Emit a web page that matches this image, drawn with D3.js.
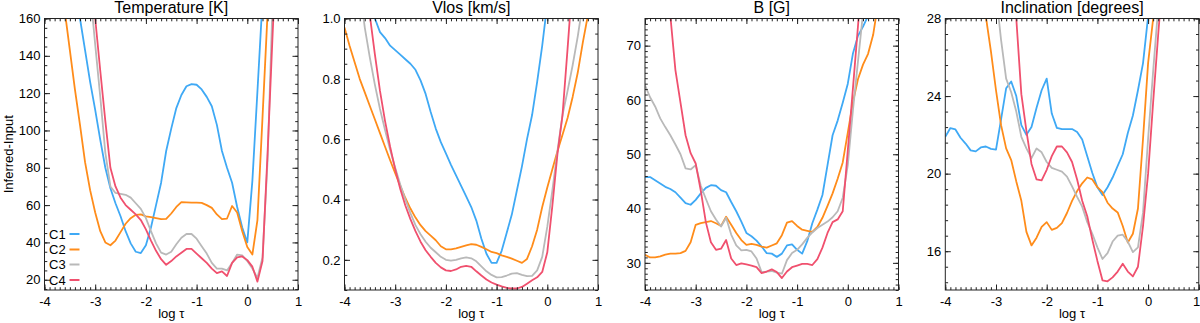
<!DOCTYPE html>
<html><head><meta charset="utf-8">
<script src="https://cdn.jsdelivr.net/npm/d3@7"></script>
<style>
body{margin:0;background:#fff}
svg{display:block}
text{font-family:"Liberation Sans",Arial,Helvetica,sans-serif;fill:#000}
</style>
</head><body>
<svg id="chart" width="1200" height="323"></svg>
<script>
// ---------------- data ----------------
const logTau = [-4.0,-3.9,-3.8,-3.7,-3.6,-3.5,-3.4,-3.3,-3.2,-3.1,
  -3.0,-2.9,-2.8,-2.7,-2.6,-2.5,-2.4,-2.3,-2.2,-2.1,
  -2.0,-1.9,-1.8,-1.7,-1.6,-1.5,-1.4,-1.3,-1.2,-1.1,
  -1.0,-0.9,-0.8,-0.7,-0.6,-0.5,-0.4,-0.3,-0.2,-0.1,
  0.0,0.1,0.2,0.3,0.4,0.5,0.6,0.7,0.8,0.9,1.0];
const seriesNames = ["C1","C2","C3","C4"];
const seriesColors = ["#3fa9f5","#ff8c1a","#b9b9b9","#f0506e"];
const xTicks = [-4,-3,-2,-1,0,1];
const _ = null;

// Temperature [K]
const tempC1 = [_,_,_,_,_,_, 178,160,143,126, 111,95,80,69,61,54,46,39.5,35,34.3,
  38.5,48,60,72,89,101,112,119,123.7,124.8, 124.5,122,118,113,103,89,80,72,59,48,
  40,73,121,170, _,_,_,_,_,_,_];
const tempC2 = [_,_,_, 185,164,143,122,103,83,68, 56,46,40,38.5,41,45.5,50,53,54.8,55,
  54,53.5,53,52.5,52.6,55.5,59,61.6,61.5,61.3, 61.3,61.2,60,58.5,55,52.5,52.8,59.5,56,46,
  37.5,33.5,52,107,163, _,_,_,_,_,_];
const tempC3 = [_,_,_,_,_,_,_,_,_, 175, 146,118,88,70,66.5,66,65.5,64,61,58,
  53,46,39.5,34.5,33.5,35,39,42.5,44.5,44.5, 42,38,34,29,26,26,25,29,33.5,33,
  30,26,21,32,84,170, _,_,_,_,_];
const tempC4 = [_,_,_,_,_,_,_,_,_, 190, 160,132,105,80,70,64,60,57.5,55,52,
  47,41,35.5,31,28,30,32.5,34.5,36.5,36.5, 34,31.5,29,26,23.5,24.5,22,29,32,32.5,
  30.5,27,19,30,88,152,210, _,_,_,_];
const tempTicks = [20,40,60,80,100,120,140,160];

// Vlos [km/s]
const vlosC1 = [_,_,_,_,_, 1.06,1.0,0.955,0.935,0.91, 0.895,0.88,0.865,0.85,0.83,0.795,0.75,0.69,0.635,0.59,
  0.553,0.515,0.48,0.445,0.41,0.375,0.33,0.27,0.22,0.19, 0.19,0.23,0.29,0.35,0.43,0.51,0.60,0.68,0.79,0.91,
  1.05, _,_,_,_,_,_,_,_,_,_];
const vlosC2 = [0.97,0.91,0.855,0.80,0.755,0.71,0.665,0.62,0.575,0.53, 0.487,0.445,0.405,0.37,0.34,0.315,0.295,0.28,0.265,0.245,
  0.235,0.235,0.238,0.243,0.248,0.252,0.25,0.243,0.235,0.226, 0.222,0.215,0.21,0.204,0.197,0.19,0.203,0.245,0.30,0.375,
  0.44,0.50,0.56,0.615,0.67,0.74,0.82,0.92,1.01, _,_];
const vlosC3 = [_,_,_, 1.1,0.97,0.87,0.78,0.70,0.63,0.565, 0.505,0.45,0.40,0.355,0.315,0.285,0.26,0.24,0.225,0.21,
  0.2,0.197,0.2,0.205,0.208,0.205,0.195,0.178,0.162,0.15, 0.142,0.143,0.148,0.154,0.156,0.15,0.146,0.147,0.165,0.21,
  0.31,0.43,0.56,0.68,0.76,0.845,0.94,1.05, _,_,_];
const vlosC4 = [_,_,_,_, 1.12,1.01,0.88,0.76,0.66,0.575, 0.5,0.435,0.38,0.335,0.295,0.26,0.232,0.21,0.19,0.175,
  0.165,0.163,0.168,0.177,0.18,0.177,0.162,0.148,0.135,0.125, 0.118,0.112,0.107,0.105,0.105,0.11,0.121,0.132,0.142,0.16,
  0.225,0.38,0.55,0.68,0.9,1.13, _,_,_,_,_];
const vlosTicks = [0.2,0.4,0.6,0.8,1.0];

// B [G]
const bC1 = [45.8,45.8,45.2,44.6,44,43.6,43,42,41,40.7, 41.6,42.8,43.8,44.3,44.2,43.4,43,41.2,39.5,37.6,
  35.5,34.9,34.1,33,31.8,31.7,31.1,31.7,33.2,33.4, 32.4,31.7,34,37.3,39.8,42.5,48,53.5,56.2,59.5,
  63,68.5,71.8,73.5,75.5,77, _,_,_,_,_];
const bC2 = [31.5,31,31,31.2,31.5,31.7,31.7,31.8,32.2,33.8, 37,37.3,37.5,37.7,37.3,36.8,38.5,37,35.5,34.2,
  33.3,33.5,33.3,33,32.8,33.2,33.6,35.1,37.4,37.7, 36.8,36.1,35.9,35.7,36.6,38.3,40.5,42.8,45.5,48.5,
  54,59.5,63.8,66.5,68.5,72,78, _,_,_,_];
const bC3 = [62.7,60.5,58.8,56.6,55,53.5,51.8,50,47.4,47.2, 48,44.2,41.8,39.5,38,36.7,38.3,35.2,33.2,32.3,
  32.4,32.1,30.8,28.3,28.4,28.5,28.2,28,30.5,31.8, 32.4,33.4,34.6,35.6,36.4,37,37.6,38.4,39.5,42,
  48,58,67,76, _,_,_,_,_,_,_];
const bC4 = [_,_,_,_, 88,75.5,65.5,59.5,53.5,50.2, 48.3,43.3,37.5,33.8,32.4,32.6,34.2,30.8,29.6,29.9,
  29.7,29.5,29.2,28.1,28.4,28.8,28.3,27.2,28.4,29.2, 29.5,29.8,29.8,29.6,30.7,32.8,35.5,37.5,38,39.5,
  50.7,62,73.5,85, _,_,_,_,_,_,_];
const bTicks = [30,40,50,60,70];

// Inclination [degrees]
const incC1 = [21.9,22.35,22.28,21.85,21.55,21.2,21.15,21.35,21.4,21.28, 21.24,22.8,24.4,24.75,24.0,22.5,22.0,22.4,23.4,24.3,
  24.9,23.1,22.36,22.3,22.3,22.3,22.15,21.76,20.9,20.03, 19.3,18.9,19.3,19.8,20.4,21.0,22.1,23.0,24.3,25.7,
  28.1,31, _,_,_,_,_,_,_,_,_];
const incC2 = [_,_,_,_,_,_,_,_, 28.1,26.3, 24.3,22.5,21.3,20.7,19.6,18.6,17.0,16.3,16.7,17.25,
  17.5,17.1,17.2,17.45,17.97,18.6,19.1,19.5,19.8,19.7, 19.3,19.05,18.5,18.2,18.0,17.3,16.45,16.9,18.2,21.8,
  25.7,28.0,30, _,_,_,_,_,_,_,_];
const incC3 = [_,_,_,_,_,_,_,_,_,_, 29.3,26.9,24.9,24.2,23.2,21.9,21.3,20.8,21.3,21.1,
  20.6,20.3,20.2,20.1,19.85,19.34,18.8,18.3,17.5,16.9, 16.2,15.6,15.9,16.5,16.8,16.85,16.5,15.95,16.2,18.0,
  21.8,25.3,28.6, _,_,_,_,_,_,_,_];
const incC4 = [_,_,_,_,_,_,_,_,_,_,_,_,_, 31,28.0,24.1,22.2,20.5,19.7,19.65,
  20.2,20.9,21.4,21.4,21.1,20.6,19.7,18.6,17.8,16.6, 15.5,14.5,14.45,14.65,14.95,15.35,14.95,14.7,15.2,17.3,
  20.0,23.7,27.2,30.5, _,_,_,_,_,_,_];
const incTicks = [16,20,24,28];

// ---------------- layout ----------------
const intFmt = d => String(d);
const panels = [
  {title:"Temperature [K]", domain:[14.5,160], ticks:tempTicks, minorStep:5, fmt:intFmt, series:[tempC1,tempC2,tempC3,tempC4]},
  {title:"Vlos [km/s]", domain:[0.1,1.0], ticks:vlosTicks, minorStep:0.05, fmt:d => d.toFixed(1), series:[vlosC1,vlosC2,vlosC3,vlosC4]},
  {title:"B [G]", domain:[25,75], ticks:bTicks, minorStep:1, fmt:intFmt, series:[bC1,bC2,bC3,bC4]},
  {title:"Inclination [degrees]", domain:[14,28], ticks:incTicks, minorStep:0.8, fmt:intFmt, series:[incC1,incC2,incC3,incC4]}
];
const lefts = [44.5, 344.5, 645, 945.3];
const pw = 253.5, plotTop = 18.5, plotBottom = 290;
const majorLen = 5.5, minorLen = 2.8;

const svg = d3.select("#chart");

function minorVals(lo, hi, step, anchor){
  const out = [];
  const start = anchor - Math.floor((anchor - lo)/step + 1e-9)*step;
  for (let v = start; v <= hi + 1e-9; v += step) out.push(+v.toFixed(6));
  return out;
}

panels.forEach((p, i) => {
  const x0 = lefts[i];
  const x = d3.scaleLinear().domain([-4,1]).range([x0, x0+pw]);
  const y = d3.scaleLinear().domain(p.domain).range([plotBottom, plotTop]);
  const g = svg.append("g");

  const clipId = "clip"+i;
  svg.append("clipPath").attr("id", clipId).append("rect")
    .attr("x", x0).attr("y", plotTop).attr("width", pw).attr("height", plotBottom-plotTop);

  const line = d3.line()
    .defined(d => d[1] !== null)
    .x(d => x(d[0])).y(d => y(d[1]));
  p.series.forEach((s, k) => {
    g.append("path")
      .attr("clip-path", `url(#${clipId})`)
      .attr("d", line(logTau.map((t, j) => [t, s[j]])))
      .attr("fill","none").attr("stroke", seriesColors[k])
      .attr("stroke-width", 1.8).attr("stroke-linejoin","round");
  });

  const xMinor = minorVals(-4, 1, 0.1, -4);
  const yMinor = minorVals(p.domain[0], p.domain[1], p.minorStep, p.ticks[0]);

  const styleAxis = sel => {
    sel.select(".domain").remove();
    sel.selectAll("line").attr("stroke","#222").attr("stroke-width",1);
    sel.selectAll("text").attr("font-size","13px").attr("fill","#000");
  };

  const bottomAxis = g.append("g").attr("transform",`translate(0,${plotBottom})`)
    .call(d3.axisBottom(x).tickValues(xTicks).tickSizeInner(-majorLen).tickSizeOuter(0).tickPadding(7).tickFormat(intFmt))
    .call(styleAxis);
  if (i === panels.length - 1) {
    bottomAxis.selectAll(".tick").filter(d => d === 1).select("text")
      .attr("text-anchor","end").attr("dx", 1);
  }
  g.append("g").attr("transform",`translate(0,${plotBottom})`)
    .call(d3.axisBottom(x).tickValues(xMinor).tickSizeInner(-minorLen).tickSizeOuter(0).tickFormat(""))
    .call(styleAxis);
  g.append("g").attr("transform",`translate(0,${plotTop})`)
    .call(d3.axisTop(x).tickValues(xTicks).tickSizeInner(-majorLen).tickSizeOuter(0).tickFormat(""))
    .call(styleAxis);
  g.append("g").attr("transform",`translate(0,${plotTop})`)
    .call(d3.axisTop(x).tickValues(xMinor).tickSizeInner(-minorLen).tickSizeOuter(0).tickFormat(""))
    .call(styleAxis);
  g.append("g").attr("transform",`translate(${x0},0)`)
    .call(d3.axisLeft(y).tickValues(p.ticks).tickSizeInner(-majorLen).tickSizeOuter(0).tickPadding(4).tickFormat(p.fmt))
    .call(styleAxis);
  g.append("g").attr("transform",`translate(${x0},0)`)
    .call(d3.axisLeft(y).tickValues(yMinor).tickSizeInner(-minorLen).tickSizeOuter(0).tickFormat(""))
    .call(styleAxis);
  g.append("g").attr("transform",`translate(${x0+pw},0)`)
    .call(d3.axisRight(y).tickValues(p.ticks).tickSizeInner(-majorLen).tickSizeOuter(0).tickFormat(""))
    .call(styleAxis);
  g.append("g").attr("transform",`translate(${x0+pw},0)`)
    .call(d3.axisRight(y).tickValues(yMinor).tickSizeInner(-minorLen).tickSizeOuter(0).tickFormat(""))
    .call(styleAxis);

  g.append("rect").attr("x",x0).attr("y",plotTop).attr("width",pw).attr("height",plotBottom-plotTop)
    .attr("fill","none").attr("stroke","#222").attr("stroke-width",1);

  g.append("text").attr("x", x0+pw/2).attr("y", 13).attr("text-anchor","middle")
    .attr("font-size","16px").text(p.title);
  const xl = g.append("text").attr("x", x0+pw/2).attr("y", 317.5).attr("text-anchor","middle")
    .attr("font-size","13px");
  xl.append("tspan").text("log ");
  xl.append("tspan").text("\u03C4");

  if (i === 0) {
    g.append("text").attr("transform",`translate(12.5,${(plotTop+plotBottom)/2}) rotate(-90)`)
      .attr("text-anchor","middle").attr("font-size","13px").text("Inferred-Input");
    const legendY = [234, 249.5, 264.5, 280];
    seriesNames.forEach((n, k) => {
      g.append("text").attr("x", 49).attr("y", legendY[k]+4.7).attr("font-size","13px").text(n);
      g.append("line").attr("x1",69.5).attr("x2",79.5).attr("y1",legendY[k]).attr("y2",legendY[k])
        .attr("stroke", seriesColors[k]).attr("stroke-width",2);
    });
  }
});
</script>
</body></html>
